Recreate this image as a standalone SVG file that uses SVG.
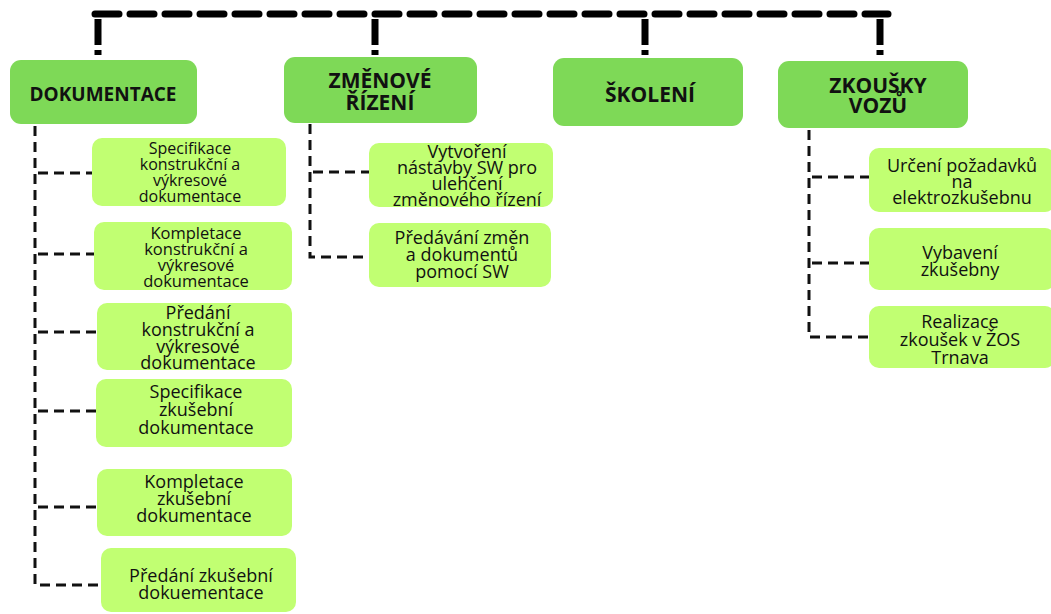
<svg xmlns="http://www.w3.org/2000/svg" width="1051" height="614" viewBox="0 0 1051 614">
<style>
.main{fill:#7ed957}
.sub{fill:#c1ff72}
.t{font-family:"Open Sans","Noto Sans","DejaVu Sans",sans-serif;fill:#111;text-anchor:middle}
.tm{font-weight:bold;font-size:21px}
.ts{font-size:18px}
.top{fill:none;stroke:#000;stroke-width:7;stroke-dasharray:24 11;stroke-linecap:round}
.drop{fill:none;stroke:#000;stroke-width:7}
.br{fill:none;stroke:#111;stroke-width:3;stroke-dasharray:10 6}
</style>
<rect width="1051" height="614" fill="#fff"/>
<g id="connectors">
<path class="top" d="M95 14 H888"/>
<path class="drop" d="M98 19 V45 M98 50 V55"/>
<path class="drop" d="M375 19 V45 M375 50 V55"/>
<path class="drop" d="M645 19 V45 M645 50 V55"/>
<path class="drop" d="M880 19 V45 M880 50 V55"/>
<path class="br" d="M35 126 V585 H100"/>
<path class="br" d="M38 173 H92 M38 254 H94 M38 332 H97 M38 411 H96 M38 507 H97"/>
<path class="br" d="M310 124 V257 H369"/>
<path class="br" d="M313 172 H369"/>
<path class="br" d="M809 130 V337 H869"/>
<path class="br" d="M812 177 H869 M812 263 H869"/>
</g>
<g id="dokumentace">
<rect class="main" x="10" y="60" width="187" height="64" rx="11"/>
<text class="t tm" x="103" y="101" style="font-size:19px">DOKUMENTACE</text>
</g>
<g id="zmenove-rizeni">
<rect class="main" x="284" y="57" width="193" height="66" rx="11"/>
<text class="t tm" x="380" y="88">ZMĚNOVÉ</text>
<text class="t tm" x="380" y="110">ŘÍZENÍ</text>
</g>
<g id="skoleni">
<rect class="main" x="553" y="58" width="190" height="68" rx="11"/>
<text class="t tm" x="650" y="102">ŠKOLENÍ</text>
</g>
<g id="zkousky-vozu">
<rect class="main" x="778" y="61" width="190" height="67" rx="11"/>
<text class="t tm" x="878" y="93">ZKOUŠKY</text>
<text class="t tm" x="878" y="113">VOZŮ</text>
</g>
<g id="spec-konstr">
<rect class="sub" x="92" y="138" width="194" height="68" rx="10"/>
<text class="t" x="190" y="154" font-size="16">Specifikace</text>
<text class="t" x="190" y="170" font-size="16">konstrukční a</text>
<text class="t" x="190" y="186" font-size="16">výkresové</text>
<text class="t" x="190" y="202" font-size="16">dokumentace</text>
</g>
<g id="kompl-konstr">
<rect class="sub" x="94" y="222" width="198" height="68" rx="10"/>
<text class="t" x="196" y="239" font-size="16.5">Kompletace</text>
<text class="t" x="196" y="255" font-size="16.5">konstrukční a</text>
<text class="t" x="196" y="271" font-size="16.5">výkresové</text>
<text class="t" x="196" y="287" font-size="16.5">dokumentace</text>
</g>
<g id="predani-konstr">
<rect class="sub" x="97" y="303" width="195" height="67" rx="10"/>
<text class="t ts" x="198" y="319">Předání</text>
<text class="t ts" x="198" y="336">konstrukční a</text>
<text class="t ts" x="198" y="353">výkresové</text>
<text class="t ts" x="198" y="369">dokumentace</text>
</g>
<g id="spec-zkus">
<rect class="sub" x="96" y="379" width="196" height="68" rx="10"/>
<text class="t ts" x="196" y="398">Specifikace</text>
<text class="t ts" x="196" y="416">zkušební</text>
<text class="t ts" x="196" y="434">dokumentace</text>
</g>
<g id="kompl-zkus">
<rect class="sub" x="97" y="469" width="195" height="67" rx="10"/>
<text class="t ts" x="194" y="488">Kompletace</text>
<text class="t ts" x="194" y="505">zkušební</text>
<text class="t ts" x="194" y="522">dokumentace</text>
</g>
<g id="predani-zkus">
<rect class="sub" x="101" y="548" width="195" height="64" rx="10"/>
<text class="t ts" x="201" y="582">Předání zkušební</text>
<text class="t ts" x="201" y="599">dokuementace</text>
</g>
<g id="vytvoreni">
<rect class="sub" x="369" y="143" width="184" height="64" rx="10"/>
<text class="t ts" x="467" y="158">Vytvoření</text>
<text class="t ts" x="467" y="174">nástavby SW pro</text>
<text class="t ts" x="467" y="190">ulehčení</text>
<text class="t ts" x="467" y="206">změnového řízení</text>
</g>
<g id="predavani">
<rect class="sub" x="369" y="223" width="182" height="64" rx="10"/>
<text class="t ts" x="462" y="244">Předávání změn</text>
<text class="t ts" x="462" y="261">a dokumentů</text>
<text class="t ts" x="462" y="278">pomocí SW</text>
</g>
<g id="urceni">
<rect class="sub" x="869" y="148" width="186" height="64" rx="10"/>
<text class="t ts" x="962" y="172">Určení požadavků</text>
<text class="t ts" x="962" y="188">na</text>
<text class="t ts" x="962" y="204">elektrozkušebnu</text>
</g>
<g id="vybaveni">
<rect class="sub" x="869" y="228" width="186" height="62" rx="10"/>
<text class="t ts" x="960" y="259">Vybavení</text>
<text class="t ts" x="960" y="276">zkušebny</text>
</g>
<g id="realizace">
<rect class="sub" x="869" y="306" width="186" height="62" rx="10"/>
<text class="t ts" x="960" y="328">Realizace</text>
<text class="t ts" x="960" y="346">zkoušek v ŽOS</text>
<text class="t ts" x="960" y="364">Trnava</text>
</g>
</svg>
